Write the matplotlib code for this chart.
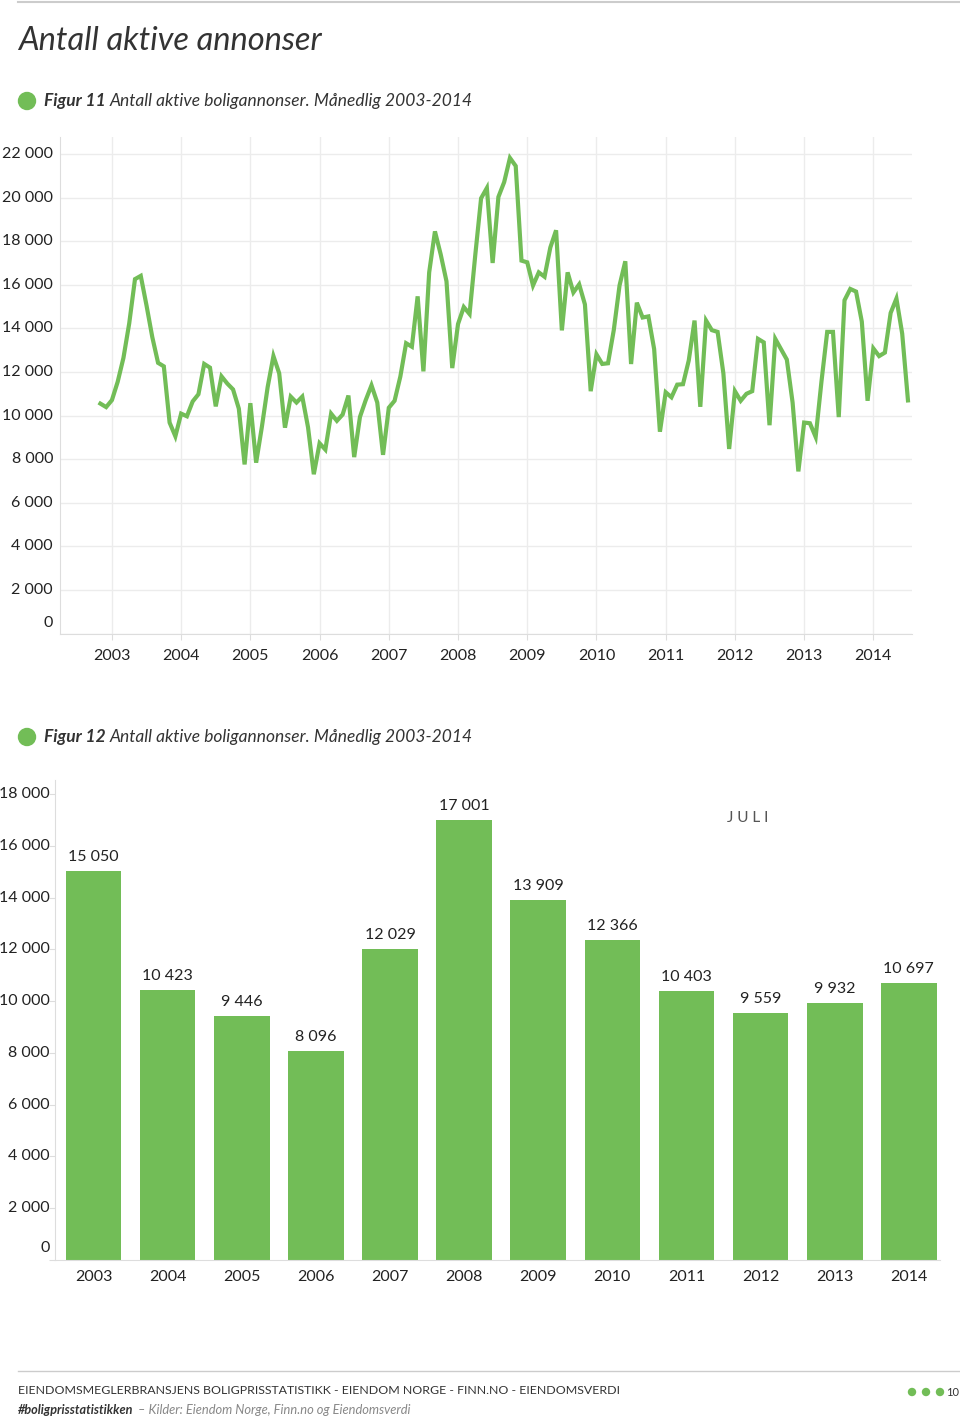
import numpy as np
import matplotlib.pyplot as plt
from matplotlib.transforms import blended_transform_factory
from matplotlib.patches import Ellipse

plt.rcParams['font.family'] = ['Lato', 'DejaVu Sans']

GREEN = '#72bd57'
TEXT = '#222222'
GRID = '#ececec'

# monthly active listings, Nov 2002 - Jul 2014
monthly = [
    10550, 10390,
    10710, 11550, 12650, 14230, 16260, 16410, 15050, 13600, 12420, 12260, 9680, 9050,
    10090, 9970, 10650, 10980, 12370, 12200, 10423, 11800, 11470, 11200, 10320, 7760,
    10570, 7840, 9490, 11310, 12730, 11940, 9446, 10870, 10600, 10870, 9460, 7310,
    8730, 8440, 10090, 9760, 10050, 10920, 8096, 9940, 10710, 11390, 10600, 8200,
    10360, 10680, 11790, 13320, 13160, 15470, 12029, 16570, 18450, 17390, 16160, 12180,
    14200, 14980, 14660, 17390, 19970, 20440, 17001, 20030, 20710, 21820, 21450, 17110,
    17030, 15970, 16570, 16370, 17710, 18500, 13909, 16570, 15650, 16020, 15100, 11120,
    12810, 12370, 12400, 13920, 15970, 17080, 12366, 15180, 14500, 14550, 13050, 9260,
    11070, 10840, 11420, 11440, 12530, 14360, 10403, 14360, 13920, 13840, 11940, 8470,
    11120, 10680, 11000, 11120, 13520, 13360, 9559, 13520, 13050, 12570, 10600, 7440,
    9680, 9650, 9020, 11550, 13840, 13840, 9932, 15290, 15810, 15690, 14310, 10680,
    13080, 12730, 12890, 14710, 15370, 13760, 10697,
]
years = list(range(2003, 2015))
july_values = [15050, 10423, 9446, 8096, 12029, 17001, 13909, 12366, 10403, 9559, 9932, 10697]

line_yticks = list(range(0, 22001, 2000))
bar_yticks = list(range(0, 18001, 2000))


def fmt(v):
    return f"{v:,}".replace(",", " ")


W, H = 960, 1421
fig = plt.figure(figsize=(W / 100, H / 100), dpi=100)


def box(left, top, right, bottom):
    return [left / W, 1 - bottom / H, (right - left) / W, (bottom - top) / H]


def px(x, y):
    return x / W, 1 - y / H


def dot(x, y, d):
    fig.add_artist(Ellipse(px(x, y), d / W, d / H, color=GREEN, transform=fig.transFigure))


# header
fig.add_artist(plt.Line2D([18 / W, 1], [1 - 1.5 / H] * 2, color='#cccccc', lw=1.5))
fig.text(*px(18, 41), 'Antall aktive annonser', fontsize=23.5, style='italic',
         color='#333333', va='center', ha='left')


def caption(y, num):
    dot(27, y, 17)
    fig.text(*px(44, y), f'Figur {num}', fontsize=12.5, style='italic',
             weight='bold', color='#333333', va='center', ha='left')
    fig.text(*px(110, y), 'Antall aktive boligannonser. Månedlig 2003-2014',
             fontsize=12.5, style='italic', color='#333333', va='center', ha='left')


caption(101, 11)
caption(737, 12)

# ---- line chart
ax1 = fig.add_axes(box(60, 137, 912, 633.6))
x = np.arange(len(monthly))
ax1.plot(x, monthly, color=GREEN, lw=3, solid_joinstyle='miter')
ax1.set_ylim(0, 22780)
ax1.set_xlim(-7, 140.7)
year_pos = [2 + 12 * i for i in range(len(years))]
ax1.set_xticks(year_pos)
ax1.set_xticklabels([str(y) for y in years], fontsize=11.5, color=TEXT)
ax1.set_yticks(line_yticks)
ax1.set_yticklabels([])
ax1.tick_params(axis='y', length=0)
ax1.tick_params(axis='x', length=4, color='#dddddd', pad=7)
ax1.grid(True, color=GRID, lw=1)
ax1.set_axisbelow(True)
for s in ['top', 'right']:
    ax1.spines[s].set_visible(False)
for s in ['left', 'bottom']:
    ax1.spines[s].set_color('#dddddd')
tr = blended_transform_factory(fig.transFigure, ax1.transData)
for v in line_yticks:
    off = 480 if v == 0 else 0
    ax1.text(53 / W, v + off, fmt(v), transform=tr, ha='right', va='center',
             fontsize=11.5, color=TEXT)

# ---- bar chart
ax2 = fig.add_axes(box(55, 780, 940, 1260))
bx = np.arange(len(years))
ax2.bar(bx, july_values, width=0.75, color=GREEN)
ax2.set_xlim(-0.52, 11.42)
ax2.set_ylim(0, 18550)
ax2.set_xticks(bx)
ax2.set_xticklabels([str(y) for y in years], fontsize=11.5, color=TEXT)
ax2.tick_params(axis='x', length=0, pad=7)
ax2.set_yticks(bar_yticks)
ax2.set_yticklabels([])
ax2.tick_params(axis='y', length=4, color='#dddddd')
for s in ['top', 'right']:
    ax2.spines[s].set_visible(False)
for s in ['left', 'bottom']:
    ax2.spines[s].set_color('#dddddd')
tr2 = blended_transform_factory(fig.transFigure, ax2.transData)
for v in bar_yticks:
    off = 450 if v == 0 else 0
    ax2.text(50 / W, v + off, fmt(v), transform=tr2, ha='right', va='center',
             fontsize=11.5, color=TEXT)
for xi, v in zip(bx, july_values):
    ax2.annotate(fmt(v), (xi, v), xytext=(0, 5), textcoords='offset points',
                 ha='center', va='bottom', fontsize=11.5, color=TEXT)
fig.text(*px(748, 818), 'J U L I', fontsize=11, color='#555555', ha='center', va='center')

# footer
fig.add_artist(plt.Line2D([18 / W, 1], [1 - 1371 / H] * 2, color='#cccccc', lw=1))
fig.text(*px(18, 1391), 'EIENDOMSMEGLERBRANSJENS BOLIGPRISSTATISTIKK - EIENDOM NORGE - FINN.NO - EIENDOMSVERDI',
         fontsize=8.9, color='#333333', ha='left', va='center')
fig.text(*px(18, 1410), '#boligprisstatistikken', fontsize=9.1, style='italic', weight='bold',
         color='#333333', ha='left', va='center')
fig.text(*px(138, 1410), '– Kilder: Eiendom Norge, Finn.no og Eiendomsverdi', fontsize=9.3,
         style='italic', color='#888888', ha='left', va='center')
for dx in [912, 926, 940]:
    dot(dx, 1392, 7)
fig.text(*px(959, 1392), '10', fontsize=8, color='#333333', ha='right', va='center')

fig.savefig('out.png', dpi=100, facecolor='white')
